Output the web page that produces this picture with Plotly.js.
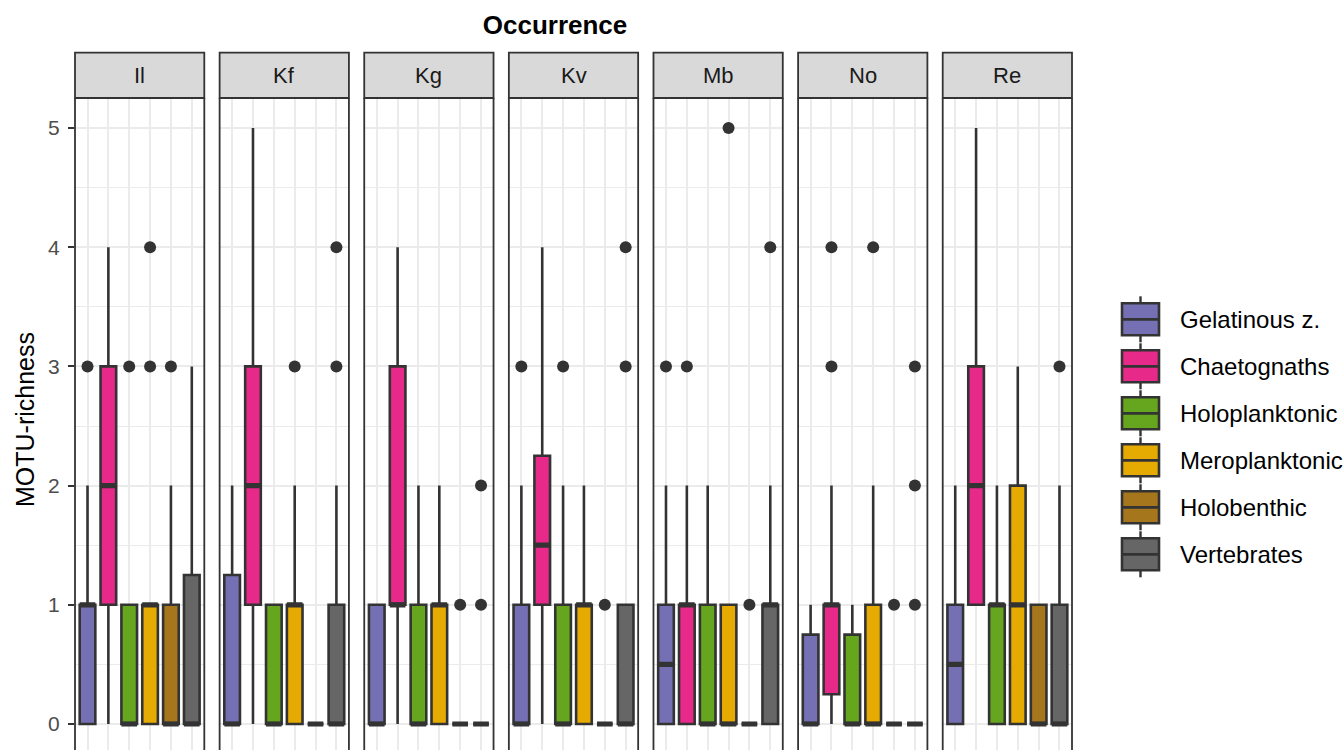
<!DOCTYPE html>
<html><head><meta charset="utf-8">
<script src="https://cdn.plot.ly/plotly-3.0.1.min.js"></script>
<style>html,body{margin:0;padding:0;background:#fff}</style>
</head><body><div id="chart" style="width:1343px;height:750px"></div>
<script>
// ---- data ----
const sites = ['Il', 'Kf', 'Kg', 'Kv', 'Mb', 'No', 'Re'];
const groups = ['Gelatinous z.', 'Chaetognaths', 'Holoplanktonic', 'Meroplanktonic', 'Holobenthic', 'Vertebrates'];
const groupColors = ['#7570B3', '#E7298A', '#66A61E', '#E6AB02', '#A6761D', '#666666'];
const yTicks = [0, 1, 2, 3, 4, 5];
// rows = sites, columns = groups
const lowerFence = [
  [0, 0, 0, 0, 0, 0],
  [0, 0, 0, 0, 0, 0],
  [0, 0, 0, 0, 0, 0],
  [0, 0, 0, 0, 0, 0],
  [0, 0, 0, 0, 0, 0],
  [0, 0, 0, 0, 0, 0],
  [0, 1, 0, 0, 0, 0]
];
const q1 = [
  [0, 1, 0, 0, 0, 0],
  [0, 1, 0, 0, 0, 0],
  [0, 1, 0, 0, 0, 0],
  [0, 1, 0, 0, 0, 0],
  [0, 0, 0, 0, 0, 0],
  [0, 0.25, 0, 0, 0, 0],
  [0, 1, 0, 0, 0, 0]
];
const median = [
  [1, 2, 0, 1, 0, 0],
  [0, 2, 0, 1, 0, 0],
  [0, 1, 0, 1, 0, 0],
  [0, 1.5, 0, 1, 0, 0],
  [0.5, 1, 0, 0, 0, 1],
  [0, 1, 0, 0, 0, 0],
  [0.5, 2, 1, 1, 0, 0]
];
const q3 = [
  [1, 3, 1, 1, 1, 1.25],
  [1.25, 3, 1, 1, 0, 1],
  [1, 3, 1, 1, 0, 0],
  [1, 2.25, 1, 1, 0, 1],
  [1, 1, 1, 1, 0, 1],
  [0.75, 1, 0.75, 1, 0, 0],
  [1, 3, 1, 2, 1, 1]
];
const upperFence = [
  [2, 4, 1, 1, 2, 3],
  [2, 5, 1, 2, 0, 2],
  [1, 4, 2, 2, 0, 0],
  [2, 4, 2, 2, 0, 1],
  [2, 2, 2, 1, 0, 2],
  [1, 2, 1, 2, 0, 0],
  [2, 5, 2, 3, 1, 2]
];
const outliers = [
  [[3], [], [3], [3, 4], [3], []],
  [[], [], [], [3], [], [3, 4]],
  [[], [], [], [], [1], [1, 2]],
  [[3], [], [3], [], [1], [3, 4]],
  [[3], [3], [], [5], [1], [4]],
  [[], [3, 4], [], [4], [1], [1, 2, 3]],
  [[], [], [], [], [], [3]]
];

// ---- layout constants ----
const W = 1343, H = 750;
const L = 75, R = 271, T = 98, B = 0;
const plotW = W - L - R, plotH = H - T - B;
const panelW = 129.3, panelStep = 144.62;
const FONT = 'Liberation Sans, Arial, Helvetica, sans-serif';
const DARK = '#333333';
const px = x => (x - L) / plotW;
const py = y => (H - B - y) / plotH;
const boxW = 0.75;

const traces = [];
const layout = {
  width: W, height: H,
  margin: {l: L, r: R, t: T, b: B, pad: 0},
  paper_bgcolor: '#ffffff', plot_bgcolor: '#ffffff',
  font: {family: FONT, color: '#000000'},
  showlegend: false,
  title: {text: '<b>Occurrence</b>', font: {family: FONT, size: 26, color: '#000000'},
          xref: 'container', yref: 'container', x: 555 / W, y: 1 - 25 / H,
          xanchor: 'center', yanchor: 'middle'},
  shapes: [], annotations: []
};

sites.forEach((site, s) => {
  const xa = 'x' + (s ? s + 1 : '');
  const ya = 'y' + (s ? s + 1 : '');
  const xKey = 'xaxis' + (s ? s + 1 : '');
  const yKey = 'yaxis' + (s ? s + 1 : '');
  const d0 = s * panelStep / plotW;
  const d1 = (s * panelStep + panelW) / plotW;
  layout[xKey] = {
    domain: [d0, d1], anchor: ya, range: [0.4, groups.length + 0.6],
    tickvals: groups.map((g, i) => i + 1), showticklabels: false, ticks: '',
    showgrid: true, gridcolor: '#EBEBEB', gridwidth: 2, zeroline: false, showline: false,
    fixedrange: true
  };
  layout[yKey] = {
    domain: [0, 1], anchor: xa, range: [-0.2181, 5.2517],
    tickvals: yTicks, ticktext: yTicks.map(String),
    showticklabels: s === 0, ticks: s === 0 ? 'outside' : '', ticklen: 6, tickwidth: 2, tickcolor: DARK,
    ticklabelstandoff: 4,
    tickfont: {family: FONT, size: 21, color: '#4D4D4D'},
    showgrid: true, gridcolor: '#EBEBEB', gridwidth: 2, zeroline: false, showline: false,
    minor: {tick0: 0.5, dtick: 1, showgrid: true, gridcolor: '#EBEBEB', gridwidth: 1, ticks: ''},
    fixedrange: true
  };
  if (s > 0) layout[yKey].matches = 'y';

  const medX = [], medY = [], outX = [], outY = [];
  groups.forEach((g, i) => {
    traces.push({
      type: 'box', orientation: 'v', xaxis: xa, yaxis: ya,
      x: [i + 1], q1: [q1[s][i]], median: [median[s][i]], q3: [q3[s][i]],
      lowerfence: [lowerFence[s][i]], upperfence: [upperFence[s][i]],
      width: boxW, whiskerwidth: 0, boxpoints: false,
      fillcolor: groupColors[i], line: {color: DARK, width: 2.6},
      name: g, showlegend: false, hoverinfo: 'skip'
    });
    medX.push(i + 1 - boxW / 2, i + 1 + boxW / 2, null);
    medY.push(median[s][i], median[s][i], null);
    outliers[s][i].forEach(v => { outX.push(i + 1); outY.push(v); });
  });
  traces.push({
    type: 'scatter', mode: 'lines', xaxis: xa, yaxis: ya, x: medX, y: medY,
    line: {color: DARK, width: 5.2}, showlegend: false, hoverinfo: 'skip', connectgaps: false
  });
  traces.push({
    type: 'scatter', mode: 'markers', xaxis: xa, yaxis: ya, x: outX, y: outY,
    marker: {color: DARK, size: 12, line: {width: 0}}, showlegend: false, hoverinfo: 'skip'
  });

  // panel borders (left / right; bottom is outside the picture)
  layout.shapes.push({type: 'line', xref: xa + ' domain', yref: 'paper', x0: 0, x1: 0, y0: -0.01, y1: 1,
                      line: {color: DARK, width: 1.8}, layer: 'above'});
  layout.shapes.push({type: 'line', xref: xa + ' domain', yref: 'paper', x0: 1, x1: 1, y0: -0.01, y1: 1,
                      line: {color: DARK, width: 1.8}, layer: 'above'});
  // strip
  layout.shapes.push({type: 'rect', xref: xa + ' domain', yref: 'paper', x0: 0, x1: 1, y0: 1, y1: py(52.7),
                      fillcolor: '#D9D9D9', line: {color: DARK, width: 1.8}, layer: 'above'});
  layout.annotations.push({text: site, xref: xa + ' domain', yref: 'paper', x: 0.5, y: py(75.5),
                           xanchor: 'center', yanchor: 'middle', showarrow: false,
                           font: {family: FONT, size: 22, color: '#1A1A1A'}});
});

// y-axis title
layout.annotations.push({text: 'MOTU-richness', xref: 'paper', yref: 'paper', x: px(25), y: py(420),
                         textangle: -90, xanchor: 'center', yanchor: 'middle', showarrow: false,
                         font: {family: FONT, size: 25, color: '#000000'}});

// legend (ggplot-like box keys)
groups.forEach((g, k) => {
  const cy = 319.3 + 47 * k;
  const kx0 = 1122, kx1 = 1159, kxc = (kx0 + kx1) / 2;
  layout.shapes.push({type: 'line', xref: 'paper', yref: 'paper', x0: px(kxc), x1: px(kxc), y0: py(cy - 23), y1: py(cy + 23),
                      line: {color: DARK, width: 2.4}});
  layout.shapes.push({type: 'rect', xref: 'paper', yref: 'paper', x0: px(kx0), x1: px(kx1), y0: py(cy - 16), y1: py(cy + 16),
                      fillcolor: groupColors[k], line: {color: DARK, width: 2.6}});
  layout.shapes.push({type: 'line', xref: 'paper', yref: 'paper', x0: px(kx0), x1: px(kx1), y0: py(cy), y1: py(cy),
                      line: {color: DARK, width: 2.8}});
  layout.annotations.push({text: g, xref: 'paper', yref: 'paper', x: px(1178), y: py(cy),
                           xanchor: 'left', yanchor: 'middle', showarrow: false,
                           font: {family: FONT, size: 24, color: '#000000'}});
});

Plotly.newPlot('chart', traces, layout, {displayModeBar: false, staticPlot: true});
</script>
</body></html>
